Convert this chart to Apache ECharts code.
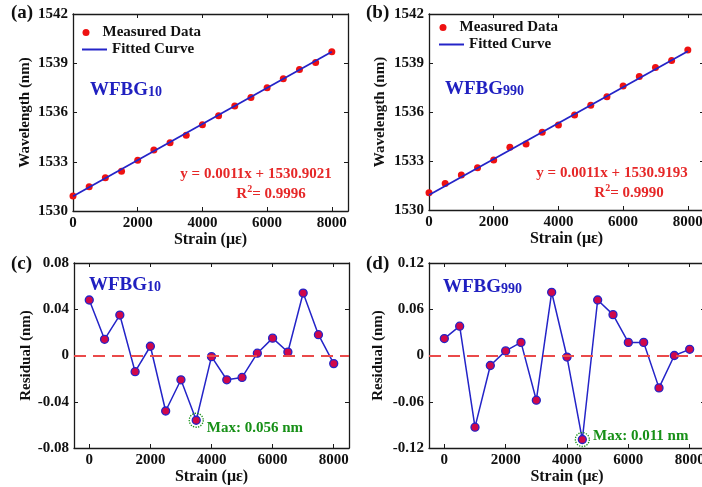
<!DOCTYPE html>
<html>
<head>
<meta charset="utf-8">
<script src="https://cdn.jsdelivr.net/npm/echarts@6/dist/echarts.min.js"></script>
<style>
html,body{margin:0;padding:0;background:#fff;}
#c{width:702px;height:487px;}
</style>
</head>
<body>
<div id="c"></div>
<script>
// ---- data ----
const strain = [0,500,1000,1500,2000,2500,3000,3500,4000,4500,5000,5500,6000,6500,7000,7500,8000];
const wavelengthA = [1530.92,1531.47,1532.03,1532.42,1533.09,1533.72,1534.15,1534.62,1535.25,1535.80,1536.39,1536.92,1537.51,1538.05,1538.62,1539.05,1539.70];
const wavelengthB = [1531.06,1531.63,1532.14,1532.59,1533.06,1533.84,1534.04,1534.76,1535.20,1535.82,1536.41,1536.94,1537.59,1538.18,1538.73,1539.16,1539.80];
const fitStrain = [0, 8000];
const fitA = [1530.9021, 1539.7021];
const fitB = [1530.9193, 1539.7193];
const residualC = [0.048,0.014,0.035,-0.014,0.008,-0.048,-0.021,-0.056,-0.001,-0.021,-0.019,0.002,0.015,0.003,0.054,0.018,-0.007];
const residualD = [0.022,0.038,-0.093,-0.013,0.006,0.017,-0.058,0.082,-0.002,-0.109,0.072,0.053,0.017,0.017,-0.042,0.000,0.008];
const maxC = [3500, -0.056];
const maxD = [4500, -0.109];
const xTicks = [0,2000,4000,6000,8000];

const FONT = 'Liberation Serif';
const BLUE = '#2424c8';
const RED = '#ee1111';
const GREEN = '#179017';
const EQRED = '#e62828';

function pairs(xs, ys){ return xs.map((x,i)=>[x, ys[i]]); }
const plain = v => String(+v.toFixed(4));

const grids = [
  {left:73, top:14, width:275, height:197},
  {left:429, top:14, width:275, height:196},
  {left:74, top:263, width:275, height:185},
  {left:429, top:263, width:276, height:185}
];
grids.forEach(g=>{g.outerBoundsMode='none'; g.containLabel=false;});

const xRanges = [[0,8500],[0,8500],[-500,8500],[-500,8500]];
const yRanges = [[1530,1542,3],[1530,1542,3],[-0.08,0.08,0.04],[-0.12,0.12,0.06]];
const yNames = ['Wavelength (nm)','Wavelength (nm)','Residual (nm)','Residual (nm)'];
const yGaps = [40,41,38,43];
const xGaps = [12,12,14,14];

const lineCol = '#1a1a1a';
const xAxes = [], yAxes = [];
for (let i=0;i<4;i++){
  xAxes.push({
    type:'value', gridIndex:i, min:xRanges[i][0], max:xRanges[i][1],
    name:'Strain (με)', nameLocation:'middle', nameGap:xGaps[i],
    nameTextStyle:{fontFamily:FONT, fontWeight:'bold', fontSize:16, color:'#111'},
    axisLine:{show:true, onZero:false, lineStyle:{color:lineCol, width:1.3}},
    axisTick:{show:true, inside:true, length:4, customValues:xTicks, lineStyle:{color:lineCol}},
    axisLabel:{show:true, customValues:xTicks, formatter:plain, margin:5, fontFamily:FONT, fontWeight:'bold', fontSize:15, color:'#111'},
    splitLine:{show:false}
  });
  yAxes.push({
    type:'value', gridIndex:i, min:yRanges[i][0], max:yRanges[i][1], interval:yRanges[i][2],
    name:yNames[i], nameLocation:'middle', nameGap:yGaps[i], nameRotate:90,
    nameTextStyle:{fontFamily:FONT, fontWeight:'bold', fontSize:15, color:'#111'},
    axisLine:{show:true, onZero:false, lineStyle:{color:lineCol, width:1.3}},
    axisTick:{show:true, inside:true, length:4, lineStyle:{color:lineCol}},
    axisLabel:{show:true, formatter:plain, margin:5, fontFamily:FONT, fontWeight:'bold', fontSize:15, color:'#111'},
    splitLine:{show:false}
  });
}
// mirror axes (box with inner ticks)
for (let i=0;i<4;i++){
  xAxes.push({
    type:'value', gridIndex:i, position:'top', min:xRanges[i][0], max:xRanges[i][1],
    axisLine:{show:true, onZero:false, lineStyle:{color:lineCol, width:1.3}},
    axisTick:{show:true, inside:true, length:4, customValues:xTicks, lineStyle:{color:lineCol}},
    axisLabel:{show:false}, splitLine:{show:false}
  });
  yAxes.push({
    type:'value', gridIndex:i, position:'right', min:yRanges[i][0], max:yRanges[i][1], interval:yRanges[i][2],
    axisLine:{show:true, onZero:false, lineStyle:{color:lineCol, width:1.3}},
    axisTick:{show:true, inside:true, length:4, lineStyle:{color:lineCol}},
    axisLabel:{show:false}, splitLine:{show:false}
  });
}

const zeroLine = {
  silent:true, symbol:['none','none'], label:{show:false},
  lineStyle:{color:'#ea4a4a', type:[12,7], width:2, opacity:1},
  data:[{yAxis:0}]
};

function residSeries(idx, data){
  return {
    type:'line', xAxisIndex:idx, yAxisIndex:idx, data:data,
    lineStyle:{color:BLUE, width:1.5},
    symbol:'circle', symbolSize:8,
    itemStyle:{color:'#d0084a', borderColor:BLUE, borderWidth:1.3, opacity:1},
    markLine:zeroLine, z:3
  };
}
function maxSeries(idx, pt, text, offset){
  return {
    type:'scatter', xAxisIndex:idx, yAxisIndex:idx, data:[pt],
    symbol:'circle', symbolSize:14, z:4,
    itemStyle:{color:'rgba(0,0,0,0)', borderColor:GREEN, borderType:'dotted', borderWidth:1.3, opacity:1},
    label:{show:true, position:'right', distance:3, offset:offset, formatter:text,
      fontFamily:FONT, fontWeight:'bold', fontSize:15, color:GREEN, opacity:1}
  };
}

const series = [
  {name:'Measured Data', type:'scatter', xAxisIndex:0, yAxisIndex:0, data:pairs(strain, wavelengthA),
   symbol:'circle', symbolSize:7, itemStyle:{color:RED, opacity:1}, z:2},
  {name:'Fitted Curve', type:'line', xAxisIndex:0, yAxisIndex:0, data:pairs(fitStrain, fitA),
   symbol:'none', lineStyle:{color:BLUE, width:1.8}, itemStyle:{color:BLUE}, z:3},
  {name:'Measured Data', type:'scatter', xAxisIndex:1, yAxisIndex:1, data:pairs(strain, wavelengthB),
   symbol:'circle', symbolSize:7, itemStyle:{color:RED, opacity:1}, z:2},
  {name:'Fitted Curve', type:'line', xAxisIndex:1, yAxisIndex:1, data:pairs(fitStrain, fitB),
   symbol:'none', lineStyle:{color:BLUE, width:1.8}, itemStyle:{color:BLUE}, z:3},
  residSeries(2, pairs(strain, residualC)),
  residSeries(3, pairs(strain, residualD)),
  maxSeries(2, maxC, 'Max: 0.056 nm', [0, 8]),
  maxSeries(3, maxD, 'Max: 0.011 nm', [0, -3])
];

const legTxt = {fontFamily:FONT, fontWeight:'bold', fontSize:15, color:'#111'};
function legends(left, top){
  return [
    {data:[{name:'Measured Data', icon:'circle', itemStyle:{color:RED, opacity:1}}], left:left+0.5, top:top, padding:0, itemWidth:23, itemHeight:7,
     textStyle:legTxt, selectedMode:false},
    {data:[{name:'Fitted Curve', icon:'rect', itemStyle:{color:BLUE}}], left:left, top:top+17, padding:0, itemWidth:25, itemHeight:2,
     textStyle:legTxt, selectedMode:false}
  ];
}

function panelLabel(x, y, t){
  return {type:'text', left:x, top:y, style:{text:t, font:'bold 19px "'+FONT+'"', fill:'#111'}};
}
function wfbg(x, y, num){
  return {type:'text', x:x, y:y, style:{
    text:'{a|WFBG}{b|'+num+'}', verticalAlign:'middle',
    rich:{a:{fontFamily:FONT, fontWeight:'bold', fontSize:19, fill:'#2020c0', verticalAlign:'bottom'},
          b:{fontFamily:FONT, fontWeight:'bold', fontSize:14, fill:'#2020c0', verticalAlign:'bottom'}}}};
}
function eq(cx, cy, t){
  return {type:'text', x:cx, y:cy, style:{text:t, align:'center', verticalAlign:'middle',
    font:'bold 15px "'+FONT+'"', fill:EQRED}};
}
function r2(cx, cy, v){
  return {type:'text', x:cx, y:cy, style:{text:'{r|R}{s|2}{r|= '+v+'}', align:'center', verticalAlign:'middle',
    rich:{r:{fontFamily:FONT, fontWeight:'bold', fontSize:15, fill:EQRED, verticalAlign:'bottom', lineHeight:17},
          s:{fontFamily:FONT, fontWeight:'bold', fontSize:10, fill:EQRED, verticalAlign:'top', lineHeight:17}}}};
}

const option = {
  animation:false,
  backgroundColor:'#fff',
  grid:grids,
  xAxis:xAxes,
  yAxis:yAxes,
  legend:[].concat(legends(82, 25), legends(439, 20)),
  series:series,
  graphic:[
    panelLabel(11, 4, '(a)'), panelLabel(366, 4, '(b)'),
    panelLabel(11, 255, '(c)'), panelLabel(366, 255, '(d)'),
    wfbg(90, 90, '10'), wfbg(445, 89, '990'),
    wfbg(89, 285, '10'), wfbg(443, 287, '990'),
    eq(256, 174, 'y = 0.0011x + 1530.9021'), r2(271, 193, '0.9996'),
    eq(612, 173, 'y = 0.0011x + 1530.9193'), r2(629, 192, '0.9990')
  ]
};

const chart = echarts.init(document.getElementById('c'), null, {renderer:'canvas'});
chart.setOption(option);
</script>
</body>
</html>
